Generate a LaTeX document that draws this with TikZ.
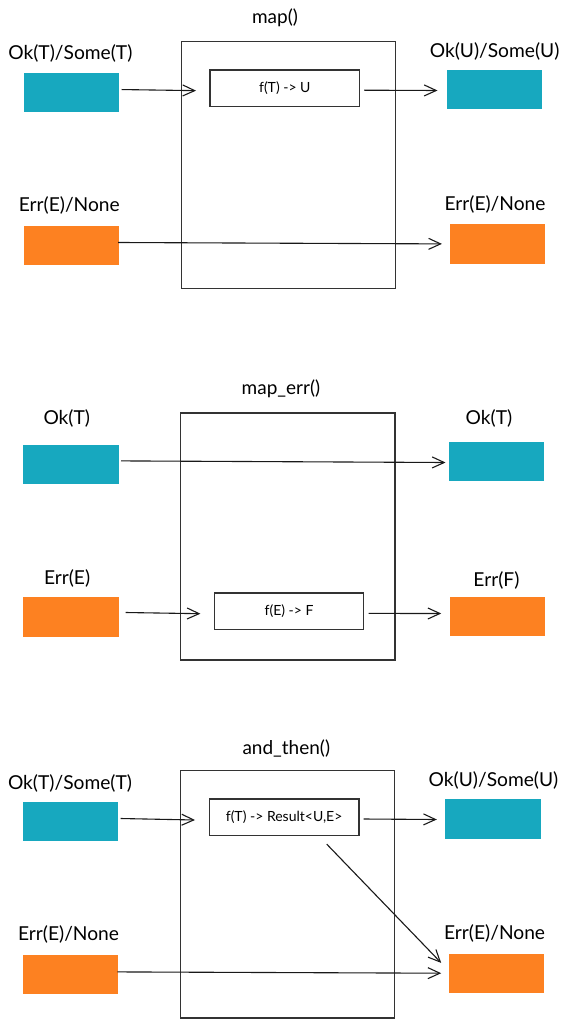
\documentclass[tikz,border=0pt]{standalone}
\usepackage{fontspec}
\setmainfont{Lato}
\usetikzlibrary{arrows.meta}
\definecolor{tealc}{HTML}{17A8BF}
\definecolor{orangec}{HTML}{FD8121}
\definecolor{linec}{HTML}{333333}
\tikzset{
  bigbox/.style={draw=linec, line width=1.4pt, anchor=north west, inner sep=0pt},
  fbox/.style={draw=linec, line width=1.4pt, anchor=north west, inner sep=0pt, font=\fontsize{14}{16}\selectfont},
  tealbox/.style={fill=tealc, anchor=north west, inner sep=0pt},
  orangebox/.style={fill=orangec, anchor=north west, inner sep=0pt},
  lbl/.style={font=\fontsize{19.2}{21}\selectfont, inner sep=0pt},
  ttl/.style={font=\fontsize{19}{21}\selectfont, inner sep=0pt},
  arr/.style={draw=black!90, line width=1.1pt, -{Straight Barb[length=12pt,width=11pt,line width=1.1pt]}}
}
\begin{document}
\begin{tikzpicture}[x=1pt,y=-1pt]
\useasboundingbox (0,0) rectangle (566,1024);
% ---------- Section 1: map() ----------
\node[ttl] (t1) at (275,18) {map()};
\node[bigbox, minimum width=214.5pt, minimum height=247.3pt] (big1) at (180.5,40.7) {};
\node[tealbox, minimum width=95.3pt, minimum height=39.3pt] (okL1) at (23.5,72.7) {};
\node[lbl] (lokL1) at (70.4,53.3) {Ok(T)/Some(T)};
\node[fbox, minimum width=149.4pt, minimum height=36.7pt] (f1) at (209.4,69.3) {f(T) -> U};
\node[tealbox, minimum width=94.9pt, minimum height=39.6pt] (okR1) at (446.6,69.7) {};
\node[lbl] (lokR1) at (494.6,51) {Ok(U)/Some(U)};
\node[orangebox, minimum width=95.3pt, minimum height=38.6pt] (errL1) at (23.5,225.7) {};
\node[lbl] (lerrL1) at (69.3,205) {Err(E)/None};
\node[orangebox, minimum width=95pt, minimum height=39.4pt] (errR1) at (449.8,224.3) {};
\node[lbl] (lerrR1) at (495,204.3) {Err(E)/None};
\draw[arr] ([xshift=2.5pt,yshift=3pt]okL1.east) -- ([xshift=-13.4pt,yshift=-2.3pt]f1.west);
\draw[arr] ([xshift=4pt,yshift=-1.85pt]f1.east) -- ([xshift=-9.1pt,yshift=-0.8pt]okR1.west);
\draw[arr] ([xshift=-1.1pt,yshift=2.7pt]errL1.east) -- ([xshift=-7.9pt,yshift=0.3pt]errR1.west);
% ---------- Section 2: map_err() ----------
\node[ttl] (t2) at (280.9,388.3) {map\_err()};
\node[bigbox, minimum width=214.4pt, minimum height=247pt] (big2) at (179.8,412.3) {};
\node[tealbox, minimum width=95.3pt, minimum height=39.4pt] (okL2) at (23.1,444.3) {};
\node[lbl] (lokL2) at (66.8,418.3) {Ok(T)};
\node[tealbox, minimum width=95pt, minimum height=39.3pt] (okR2) at (448.7,441.7) {};
\node[lbl] (lokR2) at (489,418.3) {Ok(T)};
\node[orangebox, minimum width=95.3pt, minimum height=39.3pt] (errL2) at (23.1,597) {};
\node[lbl] (lerrL2) at (67.1,578.3) {Err(E)};
\node[fbox, minimum width=148.8pt, minimum height=36.7pt] (f2) at (214,592.3) {f(E) -> F};
\node[orangebox, minimum width=94.9pt, minimum height=39.4pt] (errR2) at (449.5,596.3) {};
\node[lbl] (lerrR2) at (496.4,580.7) {Err(F)};
\draw[arr] ([xshift=2.2pt,yshift=3.3pt]okL2.east) -- ([xshift=-3.2pt,yshift=-0.95pt]okR2.west);
\draw[arr] ([xshift=6.9pt,yshift=4.35pt]errL2.east) -- ([xshift=-13.6pt,yshift=-2.35pt]f2.west);
\draw[arr] ([xshift=4.3pt,yshift=-2.05pt]f2.east) -- ([xshift=-8.3pt,yshift=2.7pt]errR2.west);
% ---------- Section 3: and_then() ----------
\node[ttl] (t3) at (286.3,748.3) {and\_then()};
\node[bigbox, minimum width=214.1pt, minimum height=247.3pt] (big3) at (179.8,770) {};
\node[tealbox, minimum width=95.3pt, minimum height=39.3pt] (okL3) at (22.7,801.7) {};
\node[lbl] (lokL3) at (70,783.3) {Ok(T)/Some(T)};
\node[fbox, minimum width=149.4pt, minimum height=36.7pt] (f3) at (208.7,798.3) {f(T) -> Result<U,E>};
\node[tealbox, minimum width=95.3pt, minimum height=39.7pt] (okR3) at (445.1,799) {};
\node[lbl] (lokR3) at (493.5,780) {Ok(U)/Some(U)};
\node[orangebox, minimum width=95.3pt, minimum height=39.4pt] (errL3) at (22.7,954.3) {};
\node[lbl] (lerrL3) at (68.6,934.3) {Err(E)/None};
\node[orangebox, minimum width=95.3pt, minimum height=39.3pt] (errR3) at (448.7,953.7) {};
\node[lbl] (lerrR3) at (494.6,933.3) {Err(E)/None};
\draw[arr] ([xshift=2.2pt,yshift=3.05pt]okL3.east) -- ([xshift=-13.7pt,yshift=-2.65pt]f3.west);
\draw[arr] ([xshift=4pt,yshift=-1.65pt]f3.east) -- ([xshift=-8.3pt,yshift=-0.45pt]okR3.west);
\draw[arr] ([xshift=42.6pt,yshift=-7.7pt]f3.south) -- ([xshift=-7.5pt,yshift=10.65pt]errR3.west);
\draw[arr] ([xshift=-1pt,yshift=2.3pt]errL3.east) -- ([xshift=-7.5pt,yshift=0.35pt]errR3.west);
\end{tikzpicture}
\end{document}
